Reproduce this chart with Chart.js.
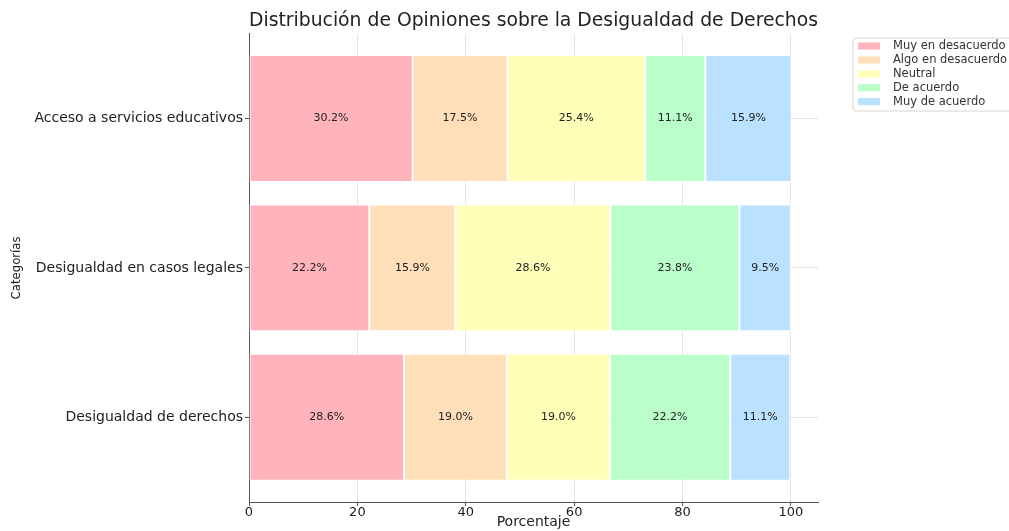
<!DOCTYPE html>
<html>
<head>
<meta charset="utf-8">
<script src="https://cdn.jsdelivr.net/npm/chart.js@4"></script>
<style>
  html, body { margin: 0; padding: 0; background: #fff; }
  #wrap { width: 1009px; height: 531px; position: relative; }
</style>
</head>
<body>
<div id="wrap"><canvas id="chart"></canvas></div>
<script>
// Datos (de arriba hacia abajo)
const categorias = [
  "Acceso a servicios educativos",
  "Desigualdad en casos legales",
  "Desigualdad de derechos"
];
const muyDesacuerdo  = [30.2, 22.2, 28.6];
const algoDesacuerdo = [17.5, 15.9, 19.0];
const neutral        = [25.4, 28.6, 19.0];
const deAcuerdo      = [11.1, 23.8, 22.2];
const muyAcuerdo     = [15.9, 9.5, 11.1];

const nombresSerie = ["Muy en desacuerdo", "Algo en desacuerdo", "Neutral", "De acuerdo", "Muy de acuerdo"];
const colores = ["#ffb3ba", "#ffdfba", "#ffffba", "#baffc9", "#bae1ff"];
const xTicks = [0, 20, 40, 60, 80, 100];

const series = [muyDesacuerdo, algoDesacuerdo, neutral, deAcuerdo, muyAcuerdo];

const FONT = "'DejaVu Sans', sans-serif";
Chart.defaults.font.family = FONT;

// etiquetas de porcentaje dentro de cada segmento
const etiquetasPlugin = {
  id: "etiquetas",
  afterDatasetsDraw(chart) {
    const ctx = chart.ctx;
    ctx.save();
    ctx.font = "11px " + FONT;
    ctx.fillStyle = "#222";
    ctx.textAlign = "center";
    ctx.textBaseline = "middle";
    chart.data.datasets.forEach((ds, i) => {
      const meta = chart.getDatasetMeta(i);
      meta.data.forEach((bar, j) => {
        const v = ds.data[j].x;
        const cx = (bar.x + bar.base) / 2;
        ctx.fillText(v.toFixed(1) + "%", cx, bar.y);
      });
    });
    ctx.restore();
  }
};

// leyenda a la derecha, fuera del area
const leyendaPlugin = {
  id: "leyenda",
  afterDraw(chart) {
    const ctx = chart.ctx;
    const x0 = 853, y0 = 38, w = 175, h = 73;
    ctx.save();
    ctx.beginPath();
    ctx.roundRect(x0, y0, w, h, 3);
    ctx.fillStyle = "rgba(255,255,255,0.85)";
    ctx.fill();
    ctx.strokeStyle = "#d6d6d6";
    ctx.lineWidth = 1;
    ctx.stroke();
    ctx.font = "11.5px " + FONT;
    ctx.textBaseline = "middle";
    chart.data.datasets.forEach((ds, i) => {
      const y = 46 + i * 13.9;
      ctx.fillStyle = ds.backgroundColor;
      ctx.fillRect(x0 + 5, y - 3.5, 22, 7);
      ctx.fillStyle = "#333";
      ctx.fillText(ds.label, x0 + 40, y);
    });
    ctx.restore();
  }
};

const datasets = series.map((vals, i) => ({
  label: nombresSerie[i],
  data: vals.map((v, j) => ({ x: v, y: j })),
  backgroundColor: colores[i],
  borderColor: "#ffffff",
  borderWidth: 1,
  borderSkipped: false,
  barPercentage: 0.85,
  categoryPercentage: 1.0
}));

new Chart(document.getElementById("chart"), {
  type: "bar",
  data: { datasets: datasets },
  plugins: [etiquetasPlugin, leyendaPlugin],
  options: {
    indexAxis: "y",
    responsive: true,
    maintainAspectRatio: false,
    animation: false,
    layout: { padding: { left: 0, right: 191, top: 0, bottom: 0 } },
    plugins: {
      legend: { display: false },
      tooltip: { enabled: false },
      title: {
        display: true,
        fullSize: false,
        text: "Distribución de Opiniones sobre la Desigualdad de Derechos",
        color: "#222",
        font: { size: 19, weight: "normal" },
        padding: { top: 10, bottom: 1 }
      }
    },
    scales: {
      x: {
        type: "linear",
        stacked: true,
        min: 0,
        max: 105,
        z: 1,
        afterFit(scale) { scale.height = 29; },
        afterBuildTicks(scale) { scale.ticks = xTicks.map(v => ({ value: v })); },
        ticks: { color: "#222", font: { size: 13 }, padding: -1, includeBounds: false },
        grid: { color: "rgba(0,0,0,0.1)", tickColor: "#555", tickLength: 4 },
        border: { display: true, color: "#555", width: 1 },
        title: {
          display: true,
          text: "Porcentaje",
          color: "#222",
          font: { size: 14 },
          padding: { top: 0, bottom: 0 }
        }
      },
      y: {
        type: "linear",
        stacked: true,
        reverse: true,
        offset: false,
        min: -0.5675,
        max: 2.5675,
        z: 1,
        afterFit(scale) { scale.width = 249; },
        afterBuildTicks(scale) { scale.ticks = categorias.map((c, i) => ({ value: i })); },
        ticks: {
          color: "#222",
          font: { size: 14 },
          padding: 2,
          callback: (v) => categorias[v]
        },
        grid: { offset: false, color: "rgba(0,0,0,0.1)", tickColor: "#555", tickLength: 4 },
        border: { display: true, color: "#555", width: 1 },
        title: {
          display: true,
          text: "Categorías",
          color: "#222",
          font: { size: 13, family: "'DejaVu Sans Condensed', 'Liberation Sans Narrow', sans-serif" },
          padding: { top: 9, bottom: 0 }
        }
      }
    }
  }
});
</script>
</body>
</html>
